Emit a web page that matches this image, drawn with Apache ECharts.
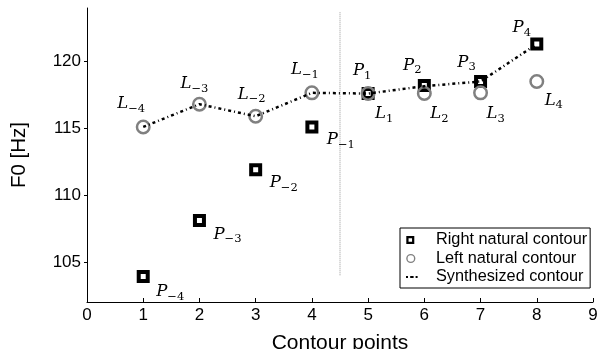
<!DOCTYPE html>
<html><head><meta charset="utf-8">
<script src="https://cdn.jsdelivr.net/npm/echarts@6/dist/echarts.min.js"></script>
<style>html,body{margin:0;padding:0;background:#fff}#c{width:598px;height:349px}</style>
</head><body><div id="c"></div>
<script>
const xs = [1, 2, 3, 4, 5, 6, 7, 8];
const rightContour = [103.9, 108.1, 111.9, 115.1, 117.6, 118.2, 118.5, 121.3];
const leftContour = [115.1, 116.8, 115.9, 117.65, 117.6, 117.6, 117.65, 118.5];
const synthContour = [115.1, 116.8, 115.9, 117.65, 117.6, 118.15, 118.5, 121.3];
const pSubs = ['−4', '−3', '−2', '−1', '1', '2', '3', '4'];
const lSubs = ['−4', '−3', '−2', '−1', '1', '2', '3', '4'];
const yTicks = [105, 110, 115, 120];
const splitX = 4.5;
const splitRange = [104, 123.7];
const legendNames = ['Right natural contour', 'Left natural contour', 'Synthesized contour'];

// label offsets (pixels) - styling only
const pOff = [[27,15],[28,14],[28,13],[29,13],[-6,-23],[-12,-20],[-14,-19],[-15,-16]];
const lOff = [[-12,-23],[-5,-20],[-4,-22],[-7,-23],[16,20],[15,20],[15,21],[17,19]];

const rich = {
  v: {fontFamily: 'DejaVu Serif', fontStyle: 'italic', fontSize: 16.5, color: '#000', verticalAlign: 'top', height: 22},
  s: {fontFamily: 'DejaVu Serif', fontSize: 11.5, color: '#000', verticalAlign: 'bottom', padding: [10, 0, 0, 0]}
};
function mk(letter, subs, vals, offs) {
  return xs.map((x, i) => ({
    value: [x, vals[i]],
    label: {show: true, position: 'inside', offset: offs[i],
      formatter: '{v|' + letter + '}{s|' + subs[i] + '}', rich: rich}
  }));
}

// legend icon shapes (25x10 box, corner slivers fix the box)
const box = 'M0,0h0.01v0.01h-0.01z M24.99,9.99h0.01v0.01h-0.01z ';
const iconSquare = 'path://' + box + 'M0.3,1h8v8h-8z M2.55,3.25v3.5h3.5v-3.5z';
const iconCircle = 'path://' + box + 'M0.2,5a4.6,4.6 0 1,0 9.2,0a4.6,4.6 0 1,0 -9.2,0z M1.6,5a3.2,3.2 0 1,1 6.4,0a3.2,3.2 0 1,1 -6.4,0z';
const iconLine = 'path://' + box + 'M0,4.1h2v1.8h-2z M4.2,4.1h3.4v1.8h-3.4z M9.6,4.1h2v1.8h-2z';

const font = 'Liberation Sans';
const chart = echarts.init(document.getElementById('c'), null, {renderer: 'canvas'});
chart.setOption({
  animation: false,
  backgroundColor: '#fff',
  grid: {left: 87, right: 5, top: 8, bottom: 47, outerBoundsMode: 'none', containLabel: false},
  xAxis: {
    type: 'value', min: 0, max: 9, interval: 1,
    name: 'Contour points', nameLocation: 'middle', nameGap: 31,
    nameTextStyle: {fontFamily: font, fontSize: 21, color: '#000'},
    axisLine: {lineStyle: {color: '#000', width: 1}},
    axisTick: {inside: true, length: 4, lineStyle: {color: '#000'}},
    axisLabel: {fontFamily: font, fontSize: 17, color: '#000', margin: 5},
    splitLine: {show: false}
  },
  yAxis: {
    type: 'value', min: 102, max: 124,
    name: 'F0 [Hz]', nameLocation: 'middle', nameGap: 57,
    nameTextStyle: {fontFamily: font, fontSize: 20.5, color: '#000'},
    axisLine: {show: true, lineStyle: {color: '#000', width: 1}},
    axisTick: {show: true, inside: false, length: 3, customValues: yTicks, lineStyle: {color: '#000'}},
    axisLabel: {fontFamily: font, fontSize: 17, color: '#000', margin: 6, customValues: yTicks},
    splitLine: {show: false}
  },
  legend: {
    orient: 'vertical', left: 400, top: 228,
    backgroundColor: '#fff', borderColor: '#000', borderWidth: 1, borderRadius: 0,
    padding: [4, 3, 3, 6], itemGap: 2.5, itemWidth: 25, itemHeight: 10,
    textStyle: {fontFamily: font, fontSize: 16.3, color: '#000'},
    data: [
      {name: legendNames[0], icon: iconSquare, itemStyle: {color: '#000', borderWidth: 0}},
      {name: legendNames[1], icon: iconCircle, itemStyle: {color: '#808080', borderWidth: 0}},
      {name: legendNames[2], icon: iconLine, itemStyle: {color: '#000', borderWidth: 0}}
    ]
  },
  series: [
    {
      name: 'split', type: 'line', silent: true, symbol: 'none',
      data: [[splitX, splitRange[0]], [splitX, splitRange[1]]],
      lineStyle: {color: '#999', width: 1, type: [1, 1]}, z: 1
    },
    {
      name: legendNames[0], type: 'scatter', symbol: 'rect', symbolSize: 9,
      itemStyle: {color: '#fff', borderColor: '#000', borderWidth: 4, opacity: 1},
      data: mk('P', pSubs, rightContour, pOff), z: 2
    },
    {
      name: legendNames[1], type: 'scatter', symbol: 'circle', symbolSize: 12.5,
      itemStyle: {color: 'rgba(0,0,0,0)', borderColor: '#808080', borderWidth: 2.5, opacity: 1},
      data: mk('L', lSubs, leftContour, lOff), z: 3
    },
    {
      name: legendNames[2], type: 'line', showSymbol: false, symbol: 'none',
      data: xs.map((x, i) => [x, synthContour[i]]),
      lineStyle: {color: '#000', width: 2.5, type: [3, 3, 1, 3]},
      itemStyle: {color: '#000'}, z: 4
    }
  ]
});
</script></body></html>
